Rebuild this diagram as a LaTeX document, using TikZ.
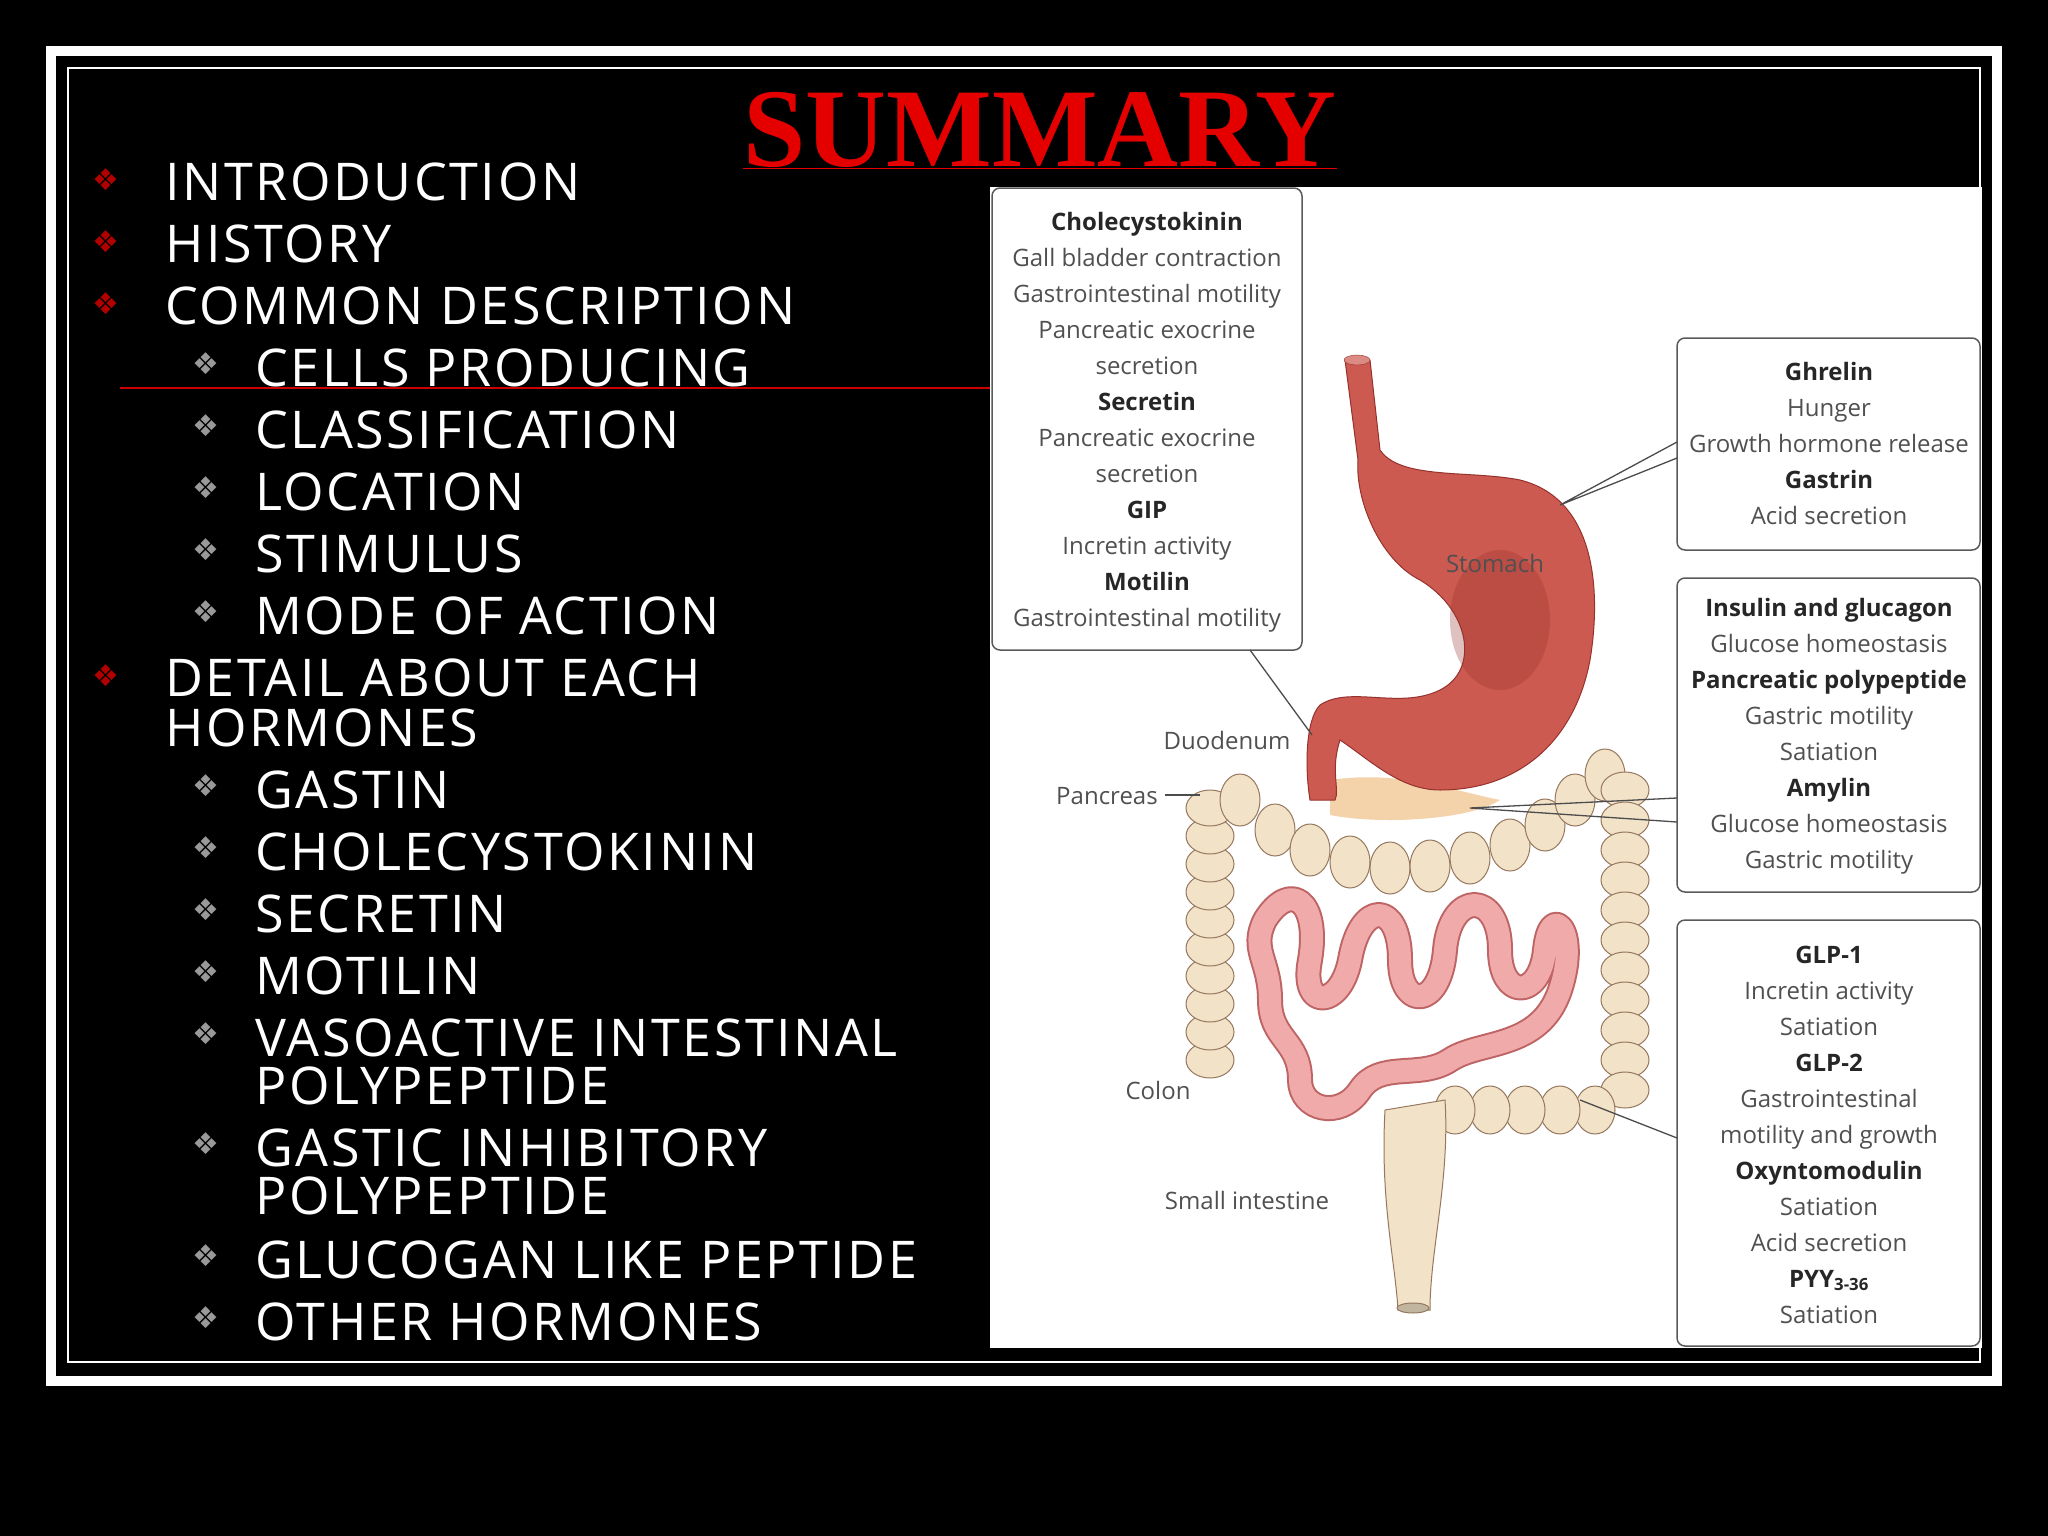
\documentclass[tikz,border=0pt]{standalone}
\usepackage{fontspec}
\setmainfont{Liberation Serif}
\newfontfamily\listfont[LetterSpace=5]{Open Sans}
\newfontfamily\labfont{Open Sans}
\newfontfamily\symfont{DejaVu Sans}
\definecolor{bord}{RGB}{90,90,90}
\definecolor{gtxt}{RGB}{80,80,80}
\definecolor{colonf}{RGB}{242,226,200}
\definecolor{colond}{RGB}{150,120,95}
\definecolor{stom}{RGB}{205,90,80}
\definecolor{stomd}{RGB}{150,50,45}
\definecolor{intf}{RGB}{240,170,170}
\definecolor{intd}{RGB}{190,100,100}
\begin{document}
\begin{tikzpicture}[x=1pt,y=-1pt,
  itm/.style={anchor=base west,text=white,font=\listfont\fontsize{52}{52}\selectfont,inner sep=0},
  bul/.style={anchor=base west,font=\symfont\fontsize{30}{30}\selectfont,inner sep=0},
  box/.style={draw=bord,line width=1.5pt,rounded corners=8pt},
  gl/.style={text=gtxt,font=\labfont\fontsize{24}{24}\selectfont,inner sep=0,anchor=base},
  bl/.style={text=black!85,font=\labfont\bfseries\fontsize{24}{24}\selectfont,inner sep=0,anchor=base},
  lead/.style={draw=black!70,line width=1.3pt},
  cc/.style={fill=colonf,draw=colond,line width=1pt}]
\fill[black] (0,0) rectangle (2048,1536);
\useasboundingbox (0,0) rectangle (2048,1536);
\draw[white,line width=10pt] (51,51) rectangle (1997,1381);
\draw[white,line width=2pt] (68,68) rectangle (1980,1362);
\node[font=\bfseries\fontsize{112}{112}\selectfont,text=red!90!black,inner sep=0,anchor=base] (title) at (1040,166) {\underline{SUMMARY}};
% list
\foreach \t/\y in {INTRODUCTION/200,HISTORY/262,COMMON DESCRIPTION/324,DETAIL ABOUT EACH/696}
  {\node[itm] at (165,\y) {\t}; \node[bul,text=red!70!black] at (92,\y-10) {❖};}
\node[itm] (hor) at (165,746) {HORMONES};
\foreach \t/\y in {CELLS PRODUCING/386,CLASSIFICATION/448,LOCATION/510,STIMULUS/572,MODE OF ACTION/634,GASTIN/808,CHOLECYSTOKININ/870,SECRETIN/932,MOTILIN/994,VASOACTIVE INTESTINAL/1056,GASTIC INHIBITORY/1166,GLUCOGAN LIKE PEPTIDE/1278,OTHER HORMONES/1340}
  {\node[itm] at (255,\y) {\t}; \node[bul,text=gray!80] at (192,\y-12) {❖};}
\node[itm] at (255,1104) {POLYPEPTIDE};
\node[itm] at (255,1214) {POLYPEPTIDE};
\draw[red!80!black,line width=1.5pt] (120,388) -- (990,388);
% image area
\fill[white] (990,187) rectangle (1982,1348);
% colon
\foreach \y in {1060,1032,1004,976,948,920,892,864,836,808}
  \draw[cc] (1210,\y) ellipse (24 and 18);
\foreach \x/\y in {1240/800,1275/830,1310/850,1350/862,1390/868,1430/866,1470/858,1510/845,1545/825,1575/800,1605/775}
  \draw[cc] (\x,\y) ellipse (20 and 26);
\foreach \y in {790,820,850,880,910,940,970,1000,1030,1060,1090}
  \draw[cc] (1625,\y) ellipse (24 and 18);
\foreach \x in {1595,1560,1525,1490,1455}
  \draw[cc] (\x,1110) ellipse (20 and 24);
\draw[cc] (1385,1110) .. controls (1380,1200) and (1395,1260) .. (1398,1310) -- (1430,1310) .. controls (1430,1250) and (1450,1180) .. (1445,1100) -- cycle;
\draw[colond,line width=1pt,fill=colonf!80!black] (1413,1308) ellipse (16 and 5);
% pancreas
\fill[colonf!85!orange] (1330,780) .. controls (1400,770) and (1450,790) .. (1500,800) .. controls (1470,820) and (1380,825) .. (1330,815) -- cycle;
% small intestine
\draw[intd,line width=26pt,line cap=round,line join=round]
 (1265,920) .. controls (1290,880) and (1320,900) .. (1310,960) .. controls (1300,1010) and (1340,1010) .. (1350,960)
 .. controls (1360,900) and (1400,900) .. (1400,960) .. controls (1400,1010) and (1440,1010) .. (1445,950)
 .. controls (1450,890) and (1500,890) .. (1500,950) .. controls (1500,1000) and (1540,1000) .. (1545,950)
 .. controls (1550,900) and (1580,930) .. (1560,990) .. controls (1540,1050) and (1480,1040) .. (1450,1060)
 .. controls (1420,1080) and (1380,1060) .. (1360,1090) .. controls (1340,1120) and (1300,1110) .. (1300,1080)
 .. controls (1300,1040) and (1270,1040) .. (1270,1000) .. controls (1270,960) and (1250,950) .. (1265,920);
\draw[intf,line width=22pt,line cap=round,line join=round]
 (1265,920) .. controls (1290,880) and (1320,900) .. (1310,960) .. controls (1300,1010) and (1340,1010) .. (1350,960)
 .. controls (1360,900) and (1400,900) .. (1400,960) .. controls (1400,1010) and (1440,1010) .. (1445,950)
 .. controls (1450,890) and (1500,890) .. (1500,950) .. controls (1500,1000) and (1540,1000) .. (1545,950)
 .. controls (1550,900) and (1580,930) .. (1560,990) .. controls (1540,1050) and (1480,1040) .. (1450,1060)
 .. controls (1420,1080) and (1380,1060) .. (1360,1090) .. controls (1340,1120) and (1300,1110) .. (1300,1080)
 .. controls (1300,1040) and (1270,1040) .. (1270,1000) .. controls (1270,960) and (1250,950) .. (1265,920);
% stomach
\fill[stom,draw=stomd,line width=1pt] (1345,360) -- (1370,360) -- (1380,450)
 .. controls (1400,480) and (1470,470) .. (1520,480) .. controls (1600,500) and (1600,600) .. (1590,660)
 .. controls (1575,740) and (1520,790) .. (1440,790) .. controls (1400,790) and (1370,760) .. (1340,740)
 .. controls (1330,770) and (1340,790) .. (1335,800) -- (1310,800) .. controls (1305,770) and (1305,720) .. (1320,705)
 .. controls (1350,685) and (1400,710) .. (1440,690) .. controls (1480,670) and (1470,610) .. (1420,580)
 .. controls (1380,560) and (1355,500) .. (1358,460) -- cycle;
\fill[stomd,opacity=.3] (1500,620) ellipse (50 and 70);
\draw[stomd,fill=stom!70] (1357,360) ellipse (13 and 5);
% labels in image
\node[gl] (stl) at (1495,572) {Stomach};
\node[gl] (duo) at (1227,749) {Duodenum};
\node[gl] (pan) at (1107,804) {Pancreas};
\node[gl] (col) at (1158,1099) {Colon};
\node[gl] (si) at (1247,1209) {Small intestine};
\coordinate (pe) at (1200,795);
\draw[lead] (1165,795) -- (pe);
% boxes
\draw[box] (992,188) rectangle (1302,650);
\node[bl] at (1147,230) {Cholecystokinin};
\node[gl] at (1147,266) {Gall bladder contraction};
\node[gl] at (1147,302) {Gastrointestinal motility};
\node[gl] at (1147,338) {Pancreatic exocrine};
\node[gl] at (1147,374) {secretion};
\node[bl] at (1147,410) {Secretin};
\node[gl] at (1147,446) {Pancreatic exocrine};
\node[gl] at (1147,482) {secretion};
\node[bl] at (1147,518) {GIP};
\node[gl] at (1147,554) {Incretin activity};
\node[bl] at (1147,590) {Motilin};
\node[gl] at (1147,626) {Gastrointestinal motility};
\draw[box] (1677,338) rectangle (1980,550);
\node[bl] at (1829,380) {Ghrelin};
\node[gl] at (1829,416) {Hunger};
\node[gl] at (1829,452) {Growth hormone release};
\node[bl] at (1829,488) {Gastrin};
\node[gl] at (1829,524) {Acid secretion};
\draw[box] (1677,578) rectangle (1980,892);
\node[bl] at (1829,616) {Insulin and glucagon};
\node[gl] at (1829,652) {Glucose homeostasis};
\node[bl] at (1829,688) {Pancreatic polypeptide};
\node[gl] at (1829,724) {Gastric motility};
\node[gl] at (1829,760) {Satiation};
\node[bl] at (1829,796) {Amylin};
\node[gl] at (1829,832) {Glucose homeostasis};
\node[gl] at (1829,868) {Gastric motility};
\draw[box] (1677,920) rectangle (1980,1346);
\node[bl] at (1829,963) {GLP-1};
\node[gl] at (1829,999) {Incretin activity};
\node[gl] at (1829,1035) {Satiation};
\node[bl] at (1829,1071) {GLP-2};
\node[gl] at (1829,1107) {Gastrointestinal};
\node[gl] at (1829,1143) {motility and growth};
\node[bl] at (1829,1179) {Oxyntomodulin};
\node[gl] at (1829,1215) {Satiation};
\node[gl] at (1829,1251) {Acid secretion};
\node[bl] at (1829,1287) {PYY\textsubscript{3-36}};
\node[gl] at (1829,1323) {Satiation};
% leaders
\coordinate (l1) at (1312,735);
\draw[lead] (1250,650) -- (l1);
\coordinate (l2) at (1560,505);
\draw[lead] (1677,442) -- (l2) -- (1677,458);
\coordinate (l3) at (1470,808);
\draw[lead] (1677,798) -- (l3) -- (1677,822);
\coordinate (l4) at (1580,1100);
\draw[lead] (1677,1138) -- (l4);
\end{tikzpicture}
\end{document}
